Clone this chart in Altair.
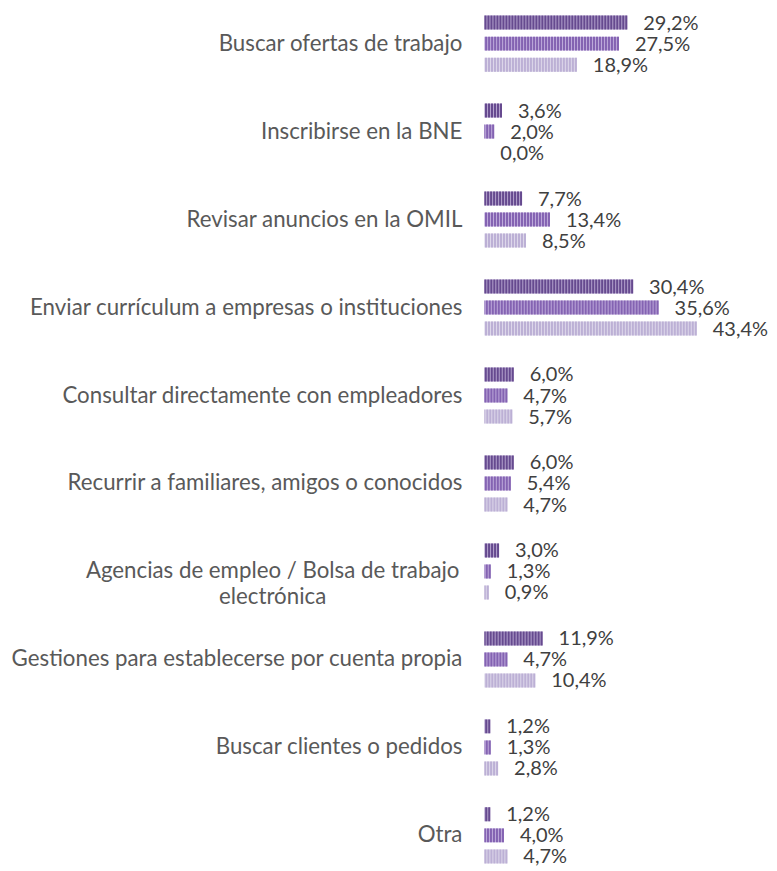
import altair as alt
import pandas as pd

categories = [
    "Buscar ofertas de trabajo",
    "Inscribirse en la BNE",
    "Revisar anuncios en la OMIL",
    "Enviar currículum a empresas o instituciones",
    "Consultar directamente con empleadores",
    "Recurrir a familiares, amigos o conocidos",
    "Agencias de empleo / Bolsa de trabajo\nelectrónica",
    "Gestiones para establecerse por cuenta propia",
    "Buscar clientes o pedidos",
    "Otra",
]
serie_1 = [29.2, 3.6, 7.7, 30.4, 6.0, 6.0, 3.0, 11.9, 1.2, 1.2]
serie_2 = [27.5, 2.0, 13.4, 35.6, 4.7, 5.4, 1.3, 4.7, 1.3, 4.0]
serie_3 = [18.9, 0.0, 8.5, 43.4, 5.7, 4.7, 0.9, 10.4, 2.8, 4.7]
series = ["Serie 1", "Serie 2", "Serie 3"]

base_colors = ["#b3a2cd", "#bda9da", "#ddd7ea"]
stripe_colors = ["#664a8f", "#8463b2", "#bcb0d5"]

rows = []
for i, c in enumerate(categories):
    for s, vals in zip(series, [serie_1, serie_2, serie_3]):
        rows.append({"cat": c, "serie": s, "v": vals[i]})
df = pd.DataFrame(rows)
cat_df = pd.DataFrame({"cat": categories})

FONT = "Lato"
yscale = alt.Scale(domain=categories, range=[0, 863], paddingInner=0.283, paddingOuter=0.04)
yoff = alt.Scale(domain=series, paddingInner=0, paddingOuter=0)
xscale = alt.Scale(domain=[0, 50])

base = alt.Chart(df).encode(
    y=alt.Y("cat:N", scale=yscale, axis=None, sort=categories),
    yOffset=alt.YOffset("serie:N", scale=yoff, sort=series),
)

bars = base.mark_bar(size=14).encode(
    x=alt.X("v:Q", scale=xscale, axis=None),
    fill=alt.Fill("serie:N", scale=alt.Scale(domain=series, range=base_colors), legend=None),
)

stripes = base.mark_rule(strokeWidth=14, strokeDash=[2, 1], strokeCap="butt").encode(
    x=alt.X("v:Q", scale=xscale, axis=None),
    x2=alt.datum(0),
    stroke=alt.Stroke("serie:N", scale=alt.Scale(domain=series, range=stripe_colors), legend=None),
)

values = base.transform_calculate(
    lab="replace(format(datum.v, '.1f'), '.', ',') + '%'"
).mark_text(
    align="left", baseline="middle", dx=16, dy=1, font=FONT, fontSize=20, color="#404040"
).encode(
    x=alt.X("v:Q", scale=xscale, axis=None),
    text="lab:N",
)

cat_base = alt.Chart(cat_df).encode(
    y=alt.Y("cat:N", scale=yscale, axis=None, sort=categories),
    text="cat:N",
)
cat_single = cat_base.transform_filter("indexof(datum.cat, '\\n') < 0").mark_text(
    align="right", baseline="middle", font=FONT, fontSize=22.3, color="#595959", lineBreak="\n"
).encode(x=alt.value(-22))
cat_multi = cat_base.transform_filter("indexof(datum.cat, '\\n') >= 0").mark_text(
    align="center", baseline="middle", font=FONT, fontSize=22.3, color="#595959",
    lineBreak="\n", lineHeight=26
).encode(x=alt.value(-212))

chart = alt.layer(bars, stripes, values, cat_single, cat_multi).properties(
    width=245, height=852, padding={"left": 3, "top": 0, "right": 0, "bottom": 0}
).configure_view(stroke=None)

chart.save("out.html", embed_options={"renderer": "svg", "actions": False})
